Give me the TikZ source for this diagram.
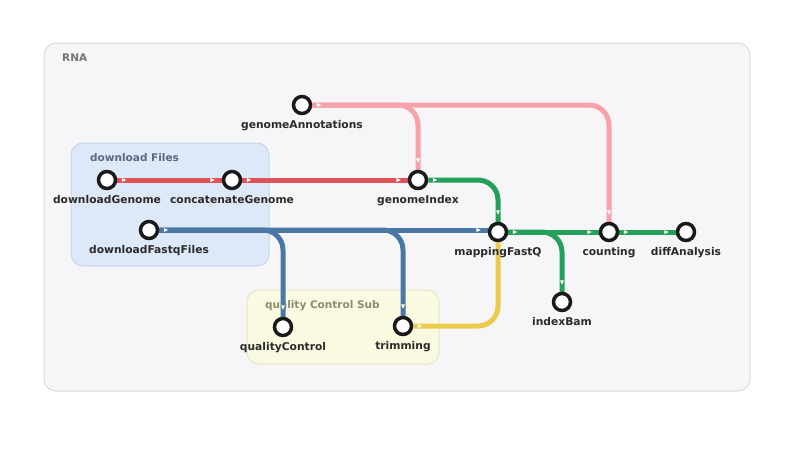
\documentclass[tikz,border=0pt]{standalone}
\usepackage{fontspec}
\setmainfont{DejaVu Sans}
\usetikzlibrary{decorations.markings}
\pgfdeclarelayer{boxes}
\pgfdeclarelayer{lines}
\pgfsetlayers{boxes,lines,main}
\definecolor{cred}{HTML}{E0525A}
\definecolor{cpink}{HTML}{F7A1AA}
\definecolor{cgreen}{HTML}{23A05A}
\definecolor{cblue}{HTML}{4A77A6}
\definecolor{cyellow}{HTML}{EBCB4C}
\definecolor{cbg}{HTML}{F6F6F8}
\definecolor{cbgline}{HTML}{DCDCE0}
\definecolor{cdl}{HTML}{DDE8F8}
\definecolor{cdlline}{HTML}{C6D6EE}
\definecolor{cqc}{HTML}{FAFAE1}
\definecolor{cqcline}{HTML}{E6E6C4}
\definecolor{ctext}{HTML}{2B2B2B}
\newcommand\flowtip{\fill[white, sharp corners] (-2.4pt,-2pt) -- (2pt,0pt) -- (-2.4pt,2pt) -- cycle;}
\tikzset{
  lbl/.style={font=\bfseries\fontsize{10.7}{12}\selectfont, text=ctext, label distance=2pt},
  stn/.style={circle, draw=black!90, line width=3.5pt, fill=white, minimum size=17pt, inner sep=0pt,
    label={[lbl]below:#1}},
  flow/.style={draw=#1, line width=5pt, rounded corners=20pt, postaction={decorate},
    decoration={markings, mark=at position 7pt with {\flowtip}, mark=at position -9pt with {\flowtip}}},
  grp/.style={font=\bfseries\fontsize{10.5}{12}\selectfont, anchor=west, inner sep=0pt}
}
\begin{document}
\begin{tikzpicture}[x=1pt,y=-1pt]
\useasboundingbox (0,0) rectangle (800,451);
% stations
\node[stn=genomeAnnotations] (gA) at (302,105) {};
\node[stn=downloadGenome] (dG) at (107,180) {};
\node[stn=concatenateGenome] (cG) at (232,180) {};
\node[stn=genomeIndex] (gI) at (418,180) {};
\node[stn=downloadFastqFiles] (dF) at (149,230) {};
\node[stn=mappingFastQ] (mF) at (498,232) {};
\node[stn=counting] (co) at (609,232) {};
\node[stn=diffAnalysis] (dA) at (686,232) {};
\node[stn=indexBam] (iB) at (562,302) {};
\node[stn=qualityControl] (qC) at (283,327) {};
\node[stn=trimming] (tr) at (403,326) {};
\begin{pgfonlayer}{boxes}
\fill[white] (0,0) rectangle (800,451);
\draw[fill=cbg, draw=cbgline, line width=1pt, rounded corners=12pt] (44,43) rectangle (750,391);
\node[grp, text=black!55] (tRNA) at (62,58) {RNA};
\draw[fill=cdl, draw=cdlline, line width=1pt, rounded corners=12pt] (71,143) rectangle (269,266);
\node[grp, text={rgb,255:red,90;green,106;blue,130}] (tDL) at (90,158) {download Files};
\draw[fill=cqc, draw=cqcline, line width=1pt, rounded corners=12pt] (247,290) rectangle (439,364);
\node[grp, text={rgb,255:red,140;green,140;blue,115}] (tQC) at (265,306) {quality Control Sub};
\end{pgfonlayer}
\begin{pgfonlayer}{lines}
\path[flow=cpink] (gA) -| (co);
\path[flow=cpink] (gA) -| (gI);
\path[flow=cred] (dG) -- (cG);
\path[flow=cred] (cG) -- (gI);
\path[flow=cblue] (dF) -| (qC);
\path[flow=cblue] (dF) -| (tr);
\path[flow=cblue] (dF) -- (mF.west |- dF);
\path[flow=cyellow] (tr) -| (mF);
\path[flow=cgreen] (gI) -| (mF);
\path[flow=cgreen] (mF) -| (iB);
\path[flow=cgreen] (mF) -- (co);
\path[flow=cgreen] (co) -- (dA);
\end{pgfonlayer}
\end{tikzpicture}
\end{document}
